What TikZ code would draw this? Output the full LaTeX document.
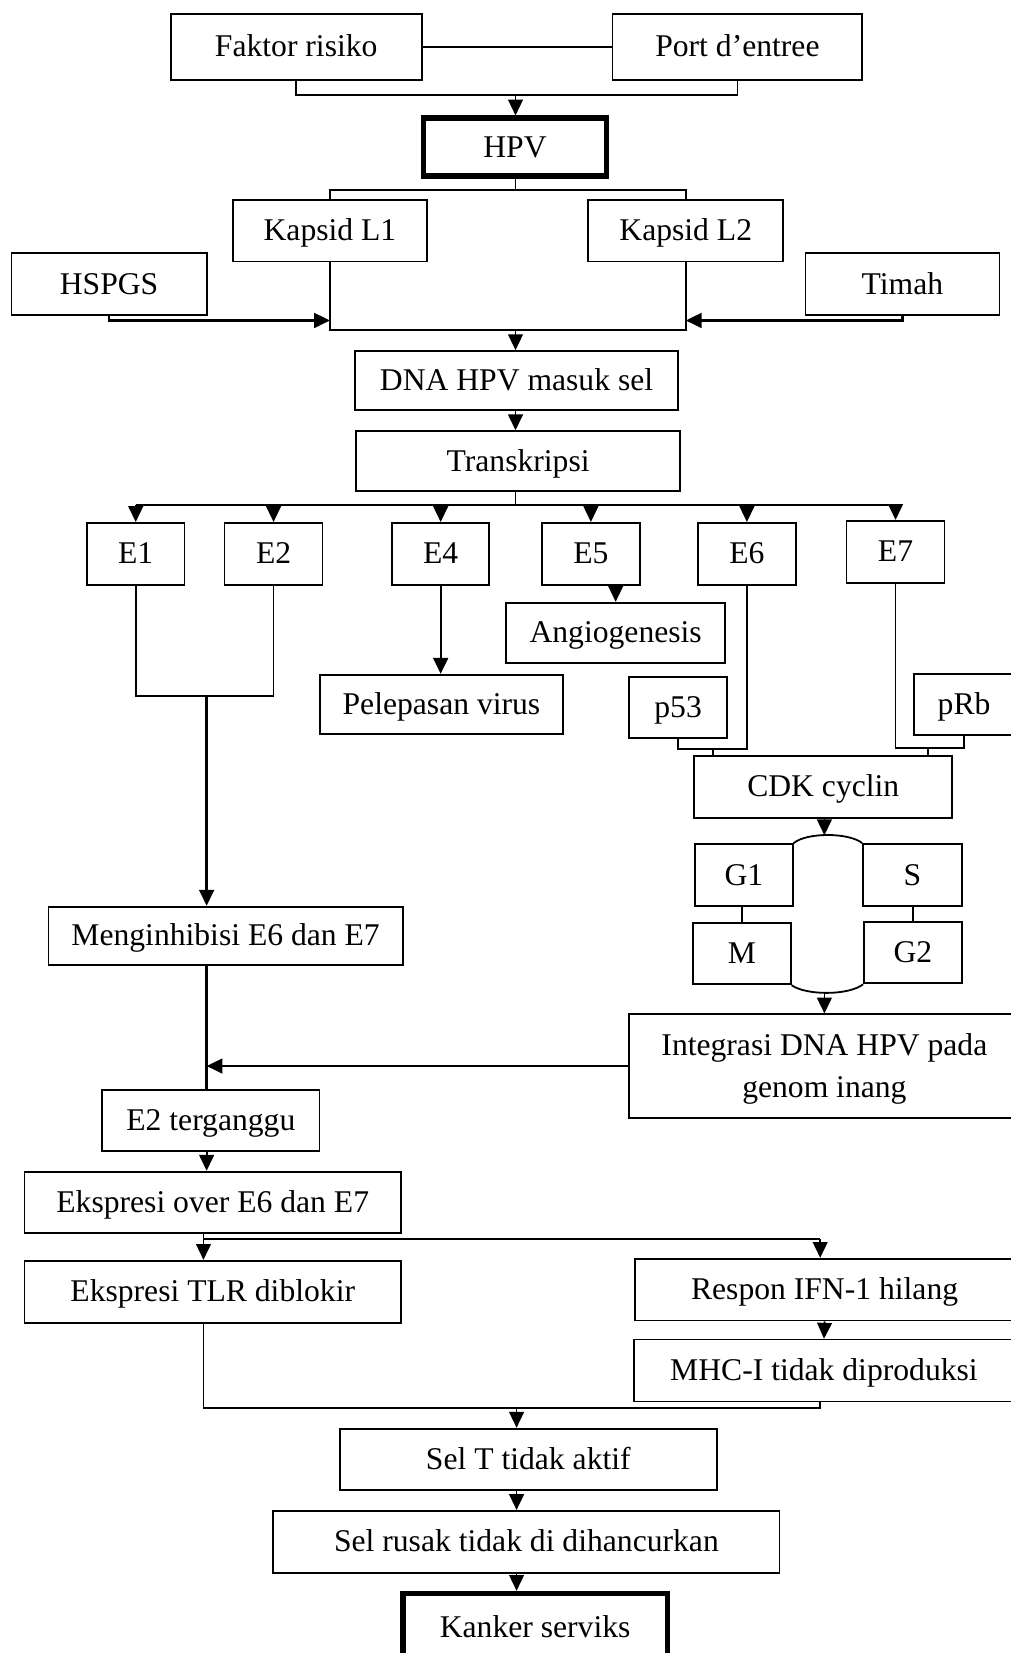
\documentclass[tikz,border=0pt]{standalone}
\usepackage{fontspec}
\setmainfont{Liberation Serif}
\usetikzlibrary{arrows.meta}
\newcommand\mkbox[7][]{%
  \pgfmathsetmacro\bxcx{(#3+#5)/2}%
  \pgfmathsetmacro\bxcy{(#4+#6)/2}%
  \pgfmathsetmacro\bxw{(#5-#3)*0.5}%
  \pgfmathsetmacro\bxh{(#6-#4)*0.5}%
  \node[box,minimum width=\bxw pt,minimum height=\bxh pt,#1] (#2) at (\bxcx,\bxcy) {#7};}
\tikzset{
  box/.style={draw, line width=0.85pt, inner sep=0pt, font=\fontsize{15}{20}\selectfont, align=center, text height=12pt, text depth=2.5pt},
  heavy/.style={line width=2.5pt},
  conn/.style={line width=0.85pt},
  arr/.style={conn, -{Triangle[length=7.5pt,width=7pt]}},
}
\begin{document}
\begin{tikzpicture}[x=0.5pt,y=-0.5pt]
\useasboundingbox (0,0) rectangle (959,1568);
\clip (0,0) rectangle (959,1568);
% boxes
\mkbox{fak}{162}{13}{400}{76}{Faktor risiko}
\mkbox{port}{581}{13}{818}{76}{Port d’entree}
\mkbox[heavy]{hpv}{402}{112}{575}{167}{HPV}
\mkbox{kl1}{221}{190}{405}{248}{Kapsid L1}
\mkbox{kl2}{558}{190}{743}{248}{Kapsid L2}
\mkbox{hspgs}{11}{240}{196}{299}{HSPGS}
\mkbox{timah}{764}{240}{948}{299}{Timah}
\mkbox{dna}{337}{333}{643}{389}{DNA HPV masuk sel}
\mkbox{tr}{338}{409}{645}{466}{Transkripsi}
\mkbox{e1}{82.5}{496}{175}{554.6}{E1}
\mkbox{e2}{213}{496}{306}{554.6}{E2}
\mkbox{e4}{372}{496}{464}{554.6}{E4}
\mkbox{e5}{514}{496}{607}{554.6}{E5}
\mkbox{e6}{662}{496}{755}{554.6}{E6}
\mkbox{e7}{803}{494}{896}{553}{E7}
\mkbox{angio}{480}{571.7}{688}{628.6}{Angiogenesis}
\mkbox{pel}{303.5}{640}{534}{696}{Pelepasan virus}
\mkbox{p53}{597}{642}{689.5}{700}{p53}
\mkbox{prb}{867}{639.5}{962}{697}{pRb}
\mkbox{cdk}{658.6}{717}{903.3}{775.6}{CDK cyclin}
\mkbox{gone}{659.3}{800.6}{752}{859.4}{G1}
\mkbox{gs}{818.7}{800.6}{912.2}{859.4}{S}
\mkbox{gm}{657.4}{875.2}{750}{933.7}{M}
\mkbox{gtwo}{819.6}{874.6}{912.2}{932.8}{G2}
\mkbox{inh}{46}{860}{382}{915}{Menginhibisi E6 dan E7}
\node[draw, line width=0.85pt, inner sep=0pt, font=\fontsize{15}{20}\selectfont, align=center,
      minimum width=185pt, minimum height=49pt] (integ) at (782,1011.2)
      {\rule{0pt}{13pt}Integrasi DNA HPV pada\\genom inang};
\mkbox{etwot}{97}{1034}{303}{1092}{E2 terganggu}
\mkbox{ekover}{23.2}{1111.4}{380.4}{1169.4}{Ekspresi over E6 dan E7}
\mkbox{tlr}{23.2}{1195.9}{380.4}{1254.6}{Ekspresi TLR diblokir}
\mkbox{resp}{602.4}{1194}{962}{1252.6}{Respon IFN-1 hilang}
\mkbox{mhc}{601.2}{1270.7}{962}{1329.4}{MHC-I tidak diproduksi}
\mkbox{selt}{322.3}{1355.2}{680}{1413.2}{Sel T tidak aktif}
\mkbox{rusak}{259.3}{1433.2}{739.4}{1492}{Sel rusak tidak di dihancurkan}
\mkbox[heavy]{kanker}{382.2}{1511.5}{633}{1576}{Kanker serviks}
% junction coordinates
\coordinate (j1) at (489,90);
\coordinate (j2) at (489,180);
\coordinate (j3) at (489,313);
\coordinate (j4) at (489,304);
\coordinate (j5) at (489,479);
\coordinate (j6) at (196,660);
\coordinate (j7) at (0,710.7);
\coordinate (j7b) at (0,709.7);
\coordinate (t1) at (676,710.7);
\coordinate (t2) at (880.6,709.7);
\coordinate (arctop) at (782,792.3);
\coordinate (arcbot) at (782,941.6);
\coordinate (j9) at (193,1175.3);
\coordinate (j10) at (778,1175.3);
\coordinate (j11) at (490,1335.8);
% connectors
\draw[conn] (fak.east) -- (port.west);
\draw[conn] (fak.south) |- (port.south |- j1) -- (port.south);
\draw[arr] (j1) -- (j1 |- hpv.north);
\draw[conn] (j2 |- hpv.south) -- (j2);
\draw[conn] (kl1.north) |- (kl2.north |- j2) -- (kl2.north);
\draw[conn] (kl1.south) |- (kl2.south |- j3) -- (kl2.south);
\draw[arr, line width=1.2pt] (hspgs.south) |- (kl1.south |- j4);
\draw[arr, line width=1.2pt] (timah.south) |- (kl2.south |- j4);
\draw[arr] (j3) -- (j3 |- dna.north);
\draw[arr] (j3 |- dna.south) -- (j3 |- tr.north);
\draw[conn] (j5 |- tr.south) -- (j5);
\draw[conn, line width=1.2pt] (e1.north |- j5) -- (e7.north |- j5);
\foreach \e in {e1,e2,e4,e5,e6,e7} {\draw[arr] (\e.north |- j5) -- (\e.north);}
\draw[conn] (e1.south) |- (e2.south |- j6) -- (e2.south);
\draw[arr, line width=1.1pt] (j6) -- (j6 |- inh.north);
\draw[arr, line width=1.1pt] (e4.south) -- (e4.south |- pel.north);
\draw[arr] (angio.north |- e5.south) -- (angio.north);
\draw[conn] (e6.south) |- (p53.south |- j7) -- (p53.south);
\draw[conn] (t1) -- (t1 |- cdk.north);
\draw[conn] (e7.south) |- (prb.south |- j7b) -- (prb.south);
\draw[conn] (t2) -- (t2 |- cdk.north);
\draw[arr] (arctop |- cdk.south) -- (arctop);
\draw[conn] (gone.north east) .. controls (765,789.5) and (805,789.5) .. (gs.north west);
\draw[conn] (gm.north) -- (gm.north |- gone.south);
\draw[conn] (gtwo.north) -- (gtwo.north |- gs.south);
\draw[conn] (gm.south east) .. controls (765,944.4) and (805,944.4) .. (gtwo.south west);
\draw[arr] (arcbot) -- (integ.north);
\draw[arr, line width=1.1pt] (integ.west) -- (integ.west -| j6);
\draw[conn, line width=1.1pt] (j6 |- inh.south) -- (j6 |- etwot.north);
\draw[arr] (j6 |- etwot.south) -- (j6 |- ekover.north);
\draw[conn] (j9 |- ekover.south) -- (j9) -- (j10);
\draw[arr] (j9) -- (j9 |- tlr.north);
\draw[arr] (j10) -- (j10 |- resp.north);
\draw[arr] (resp.south) -- (mhc.north);
\draw[conn] (j9 |- tlr.south) |- (j10 |- j11) -- (j10 |- mhc.south);
\draw[arr] (j11) -- (j11 |- selt.north);
\draw[arr] (j11 |- selt.south) -- (j11 |- rusak.north);
\draw[arr] (j11 |- rusak.south) -- (j11 |- kanker.north);
\end{tikzpicture}
\end{document}
